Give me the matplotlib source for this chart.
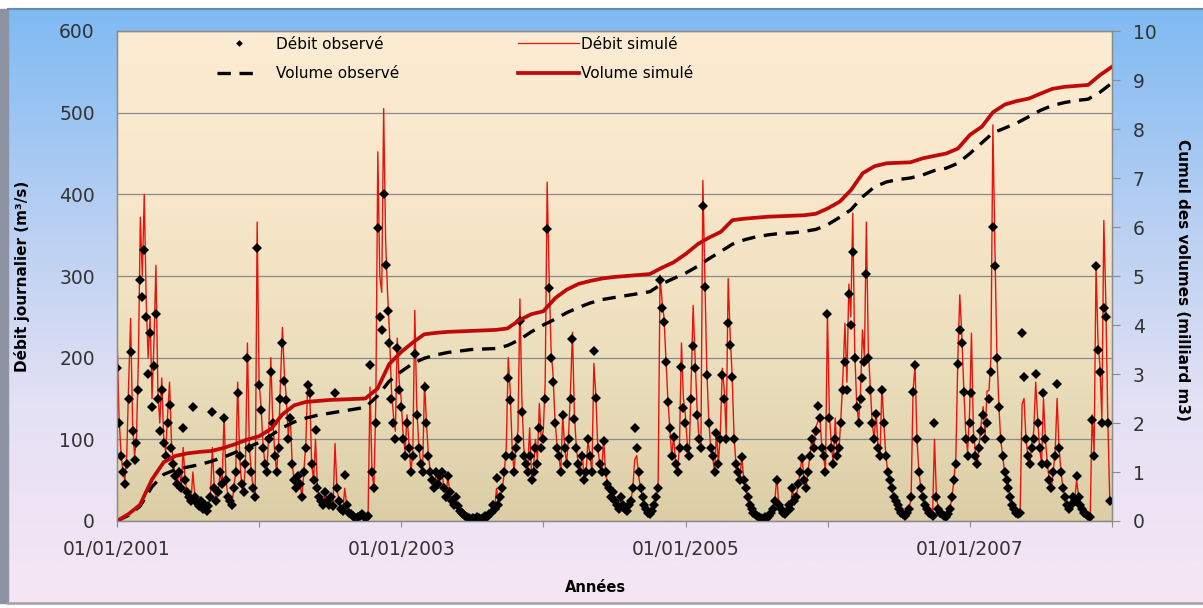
import numpy as np
import pandas as pd
import matplotlib
matplotlib.use("Agg")
import matplotlib.pyplot as plt
from matplotlib.colors import LinearSegmentedColormap
from matplotlib.lines import Line2D

# débits journaliers (m3/s), un point tous les 5 jours à partir du 01/01/2001
obs_2001 = [187, 120, 80, 60, 45, 70, 150, 207, 110, 75,
            95, 160, 295, 274, 332, 250, 180, 230, 140, 190,
            254, 150, 110, 160, 95, 80, 120, 142, 90, 70,
            55, 45, 60, 40, 114, 50, 35, 30, 25, 140,
            30, 22, 18, 25, 15, 20, 12, 18, 30, 133,
            40, 25, 35, 60, 45, 126, 50, 30, 25, 20,
            40, 60, 157, 80, 45, 35, 70, 200, 90, 60,
            40, 30, 334]
obs_2002 = [166, 136, 90, 70, 60, 100, 182, 120, 80, 60,
            90, 150, 218, 172, 148, 100, 126, 70, 50, 40,
            55, 45, 30, 60, 90, 166, 157, 70, 50, 111,
            40, 30, 25, 20, 35, 25, 20, 30, 18, 157,
            40, 25, 15, 12, 56, 20, 10, 8, 6, 5,
            4, 5, 6, 8, 5, 4, 6, 191, 60, 40,
            120, 359, 250, 234, 401, 313, 257, 218, 150, 120,
            100, 212, 160]
obs_2003 = [140, 100, 80, 120, 90, 60, 80, 204, 130, 90,
            70, 60, 164, 120, 80, 60, 50, 40, 60, 45,
            55, 60, 40, 30, 55, 35, 25, 20, 30, 18,
            12, 10, 8, 6, 5, 4, 3, 4, 3, 5,
            4, 3, 4, 6, 5, 8, 10, 20, 15, 53,
            20, 30, 40, 60, 80, 175, 148, 80, 60, 90,
            100, 245, 134, 80, 70, 60, 80, 50, 60, 90,
            70, 114, 90]
obs_2004 = [100, 150, 357, 285, 200, 170, 120, 90, 80, 60,
            130, 90, 70, 100, 150, 223, 125, 90, 70, 60,
            80, 50, 60, 100, 80, 60, 208, 151, 90, 70,
            60, 98, 60, 45, 40, 30, 35, 25, 20, 15,
            30, 20, 15, 12, 20, 25, 40, 114, 90, 60,
            40, 30, 20, 15, 10, 8, 12, 20, 30, 40,
            295, 261, 244, 195, 146, 114, 80, 103, 70, 60,
            90, 189, 138]
obs_2005 = [120, 90, 80, 150, 214, 187, 130, 100, 90, 386,
            286, 179, 120, 90, 80, 60, 108, 70, 100, 179,
            150, 100, 242, 215, 176, 100, 70, 60, 50, 78,
            50, 40, 30, 20, 15, 10, 8, 6, 5, 4,
            3, 5, 4, 6, 10, 15, 25, 50, 20, 15,
            10, 8, 12, 20, 15, 40, 25, 30, 45, 60,
            77, 50, 40, 60, 80, 100, 90, 110, 141, 126,
            90, 80, 60]
obs_2006 = [253, 126, 90, 70, 100, 80, 90, 120, 160, 195,
            160, 278, 240, 329, 200, 140, 120, 150, 175, 195,
            303, 200, 160, 120, 100, 131, 90, 80, 160, 120,
            80, 60, 50, 40, 30, 25, 20, 15, 10, 8,
            6, 10, 15, 30, 158, 191, 100, 60, 40, 30,
            20, 15, 10, 8, 6, 120, 30, 15, 10, 8,
            6, 5, 8, 15, 30, 50, 70, 192, 234, 218,
            158, 100, 80]
obs_2007 = [120, 157, 100, 80, 70, 90, 110, 130, 100, 120,
            150, 182, 360, 312, 200, 140, 100, 80, 60, 50,
            40, 30, 20, 15, 10, 8, 10, 230, 176, 100,
            80, 70, 90, 100, 180, 120, 90, 70, 157, 100,
            70, 50, 40, 60, 80, 168, 90, 60, 40, 30,
            20, 15, 20, 30, 25, 55, 30, 20, 15, 10,
            8, 6, 5, 124, 80, 312, 209, 182, 120, 261,
            250, 120, 25]

sim_2001 = [228, 130, 85, 60, 50, 80, 170, 248, 120, 80,
            100, 200, 372, 300, 400, 270, 200, 250, 150, 220,
            313, 160, 120, 175, 100, 85, 130, 170, 95, 70,
            55, 45, 65, 40, 90, 50, 35, 30, 25, 60,
            30, 22, 18, 25, 15, 20, 12, 18, 30, 90,
            40, 25, 35, 60, 45, 130, 50, 30, 25, 20,
            40, 60, 170, 80, 45, 35, 70, 218, 90, 60,
            40, 30, 366]
sim_2002 = [170, 140, 95, 70, 60, 110, 200, 125, 85, 60,
            95, 170, 237, 180, 150, 105, 130, 70, 50, 40,
            55, 45, 30, 60, 95, 170, 160, 70, 50, 100,
            40, 30, 25, 20, 35, 25, 20, 30, 18, 95,
            40, 25, 15, 12, 40, 20, 10, 8, 6, 5,
            4, 5, 6, 8, 5, 4, 6, 164, 60, 40,
            150, 452, 300, 280, 505, 344, 280, 230, 160, 130,
            110, 224, 170]
sim_2003 = [150, 105, 85, 130, 95, 60, 85, 258, 140, 95,
            70, 60, 170, 120, 80, 60, 50, 40, 60, 45,
            55, 60, 40, 30, 55, 35, 25, 20, 30, 18,
            12, 10, 8, 6, 5, 4, 3, 4, 3, 5,
            4, 3, 4, 6, 5, 8, 10, 20, 15, 40,
            20, 30, 40, 60, 90, 200, 160, 90, 60, 95,
            110, 272, 150, 90, 75, 65, 114, 55, 65, 100,
            75, 144, 100]
sim_2004 = [110, 170, 415, 300, 210, 180, 125, 95, 80, 60,
            130, 90, 70, 105, 160, 231, 130, 90, 70, 60,
            85, 50, 60, 100, 80, 60, 193, 155, 90, 70,
            60, 100, 60, 45, 40, 30, 35, 25, 20, 15,
            30, 20, 15, 12, 20, 25, 40, 75, 80, 55,
            40, 30, 20, 15, 10, 8, 12, 20, 30, 40,
            301, 270, 250, 200, 150, 115, 80, 105, 70, 60,
            95, 218, 150]
sim_2005 = [130, 95, 85, 170, 264, 200, 140, 100, 90, 417,
            300, 187, 125, 90, 80, 60, 110, 70, 110, 187,
            160, 105, 297, 230, 180, 105, 70, 60, 50, 80,
            50, 40, 30, 20, 15, 10, 8, 6, 5, 4,
            3, 5, 4, 6, 10, 15, 25, 55, 20, 15,
            10, 8, 12, 20, 15, 40, 25, 30, 45, 60,
            80, 50, 40, 60, 80, 100, 90, 115, 121, 130,
            95, 80, 60]
sim_2006 = [256, 130, 95, 70, 126, 80, 90, 130, 180, 242,
            170, 290, 250, 377, 210, 145, 120, 160, 234, 200,
            366, 210, 165, 120, 100, 135, 90, 80, 165, 120,
            80, 60, 50, 40, 30, 25, 20, 15, 10, 8,
            6, 10, 15, 30, 160, 190, 100, 60, 40, 30,
            20, 15, 10, 8, 6, 100, 30, 15, 10, 8,
            6, 5, 8, 15, 30, 50, 80, 200, 277, 230,
            165, 110, 85]
sim_2007 = [130, 230, 110, 85, 70, 95, 120, 140, 105, 159,
            160, 200, 485, 340, 210, 145, 100, 80, 60, 50,
            40, 30, 20, 15, 10, 8, 10, 143, 150, 100,
            80, 70, 95, 110, 170, 125, 90, 70, 150, 100,
            70, 50, 40, 60, 85, 150, 90, 60, 40, 30,
            20, 15, 20, 30, 25, 50, 30, 20, 15, 10,
            8, 6, 5, 130, 85, 312, 220, 190, 125, 368,
            270, 130, 30]

# cumul des volumes (milliard m3), début de chaque mois 01/2001 -> 01/2008
vol_obs = [0.0, 0.12, 0.3, 0.7, 0.95, 1.05, 1.1, 1.15, 1.22, 1.3,
           1.4, 1.5, 1.6, 1.75, 1.9, 2.02, 2.1, 2.16, 2.2, 2.24,
           2.28, 2.32, 2.55, 2.85, 3.05, 3.22, 3.32, 3.39, 3.44, 3.47,
           3.5, 3.51, 3.52, 3.58, 3.7, 3.86, 4.0, 4.12, 4.25, 4.36,
           4.45, 4.52, 4.56, 4.6, 4.64, 4.68, 4.84, 4.95, 5.06, 5.2,
           5.35, 5.5, 5.65, 5.74, 5.8, 5.84, 5.87, 5.88, 5.91, 5.95,
           6.05, 6.2, 6.35, 6.62, 6.82, 6.92, 6.97, 7.0, 7.06, 7.15,
           7.2, 7.3, 7.5, 7.72, 7.92, 8.02, 8.12, 8.25, 8.38, 8.48,
           8.54, 8.58, 8.61, 8.75, 8.94]
vol_sim = [0.0, 0.15, 0.33, 0.85, 1.2, 1.33, 1.38, 1.41, 1.43, 1.49,
           1.57, 1.66, 1.73, 1.88, 2.17, 2.36, 2.43, 2.45, 2.47, 2.48,
           2.49, 2.5, 2.7, 3.2, 3.45, 3.65, 3.81, 3.84, 3.86, 3.87,
           3.88, 3.89, 3.9, 3.93, 4.1, 4.22, 4.28, 4.55, 4.72, 4.84,
           4.9, 4.95, 4.98, 5.0, 5.02, 5.04, 5.17, 5.28, 5.45, 5.65,
           5.78, 5.9, 6.14, 6.17, 6.19, 6.21, 6.22, 6.23, 6.24, 6.27,
           6.38, 6.52, 6.75, 7.1, 7.24, 7.3, 7.31, 7.32, 7.4, 7.45,
           7.5, 7.6, 7.88, 8.05, 8.34, 8.5, 8.57, 8.62, 8.72, 8.82,
           8.86, 8.88, 8.9, 9.1, 9.27]

x_labels = ["01/01/2001", "", "01/01/2003", "", "01/01/2005", "", "01/01/2007", ""]

debit_obs = obs_2001 + obs_2002 + obs_2003 + obs_2004 + obs_2005 + obs_2006 + obs_2007
debit_sim = sim_2001 + sim_2002 + sim_2003 + sim_2004 + sim_2005 + sim_2006 + sim_2007
jours = np.datetime64("2001-01-01") + np.arange(len(debit_obs)) * np.timedelta64(5, "D")
mois = pd.date_range("2001-01-01", periods=len(vol_obs), freq="MS")
annees = pd.date_range("2001-01-01", periods=len(x_labels), freq="YS")

plt.rcParams["font.family"] = "DejaVu Sans"
W, H = 1203, 608
fig = plt.figure(figsize=(W / 100, H / 100), dpi=100)

# fond (dégradés façon Excel)
bg = fig.add_axes([0, 0, 1, 1], zorder=-10)
bg.set_xlim(0, 1)
bg.set_ylim(0, 1)
bg.axis("off")
fond = LinearSegmentedColormap.from_list("fond", ["#f6e6f4", "#e4e1f4", "#b4cef2", "#7fbaf3"])
bg.imshow(np.linspace(0, 1, 256).reshape(-1, 1), origin="lower", cmap=fond, aspect="auto",
          extent=[0.007, 1, 0.008, 0.986])
bg.fill_between([0, 0.007], 0.008, 0.986, color="#8e93a3")
bg.plot([0.007, 1], [0.986, 0.986], color="#6d88a8", lw=1.5)
bg.plot([0.007, 1], [0.008, 0.008], color="#a9a6b0", lw=2)

x0, x1 = 117 / W, 1112 / W
y0, y1 = 1 - 521 / H, 1 - 31 / H
zone = LinearSegmentedColormap.from_list("zone", ["#dbcea6", "#ecdfbd", "#f8e7ca", "#fcecd3"])
bg.imshow(np.linspace(0, 1, 256).reshape(-1, 1), origin="lower", cmap=zone, aspect="auto",
          extent=[x0, x1, y0, y1])

ax = fig.add_axes([x0, y0, x1 - x0, y1 - y0])
ax.set_facecolor("none")
ax.plot(jours, debit_sim, color="#e8140c", lw=1.0, zorder=2)
ax.plot(jours, debit_obs, ls="none", marker="D", ms=5.5, color="black", mew=0, zorder=3)
ax.set_ylim(0, 600)
ax.set_yticks(range(0, 601, 100))
ax.set_xlim(np.datetime64("2001-01-01"), np.datetime64("2008-01-01"))
ax.set_xticks(annees)
ax.set_xticklabels(x_labels)
ax.yaxis.grid(True, color="#8a8a8a", lw=0.9)
ax.set_axisbelow(True)

ax2 = ax.twinx()
ax2.plot(mois, vol_obs, color="black", lw=2.4, ls=(0, (4, 2.6)), dash_capstyle="butt")
ax2.plot(mois, vol_sim, color="#c00a0a", lw=2.7)
ax2.set_ylim(0, 10)
ax2.set_yticks(range(0, 11))

for a in (ax, ax2):
    for s in a.spines.values():
        s.set_color("#8a8a8a")
        s.set_linewidth(0.9)
ax.tick_params(axis="y", length=0, pad=16, labelsize=13.5, labelcolor="#333333")
ax.tick_params(axis="x", length=4, color="#8a8a8a", pad=10, labelsize=13.5, labelcolor="#333333")
ax2.tick_params(axis="y", length=6, color="#8a8a8a", pad=9, labelsize=13.5, labelcolor="#333333")

fig.text(22 / W, 1 - 276 / H, "Débit journalier (m³/s)", rotation=90, ha="center", va="center",
         fontsize=11, fontweight="bold")
fig.text(1182 / W, 1 - 280 / H, "Cumul des volumes (milliard m3)", rotation=-90, ha="center",
         va="center", fontsize=11, fontweight="bold")
fig.text(595 / W, 1 - 588 / H, "Années", ha="center", va="center", fontsize=10.5, fontweight="bold")

h_obs = Line2D([], [], ls="none", marker="D", ms=3.4, color="black", mew=0)
h_vobs = Line2D([], [], color="black", lw=2.4, ls=(0, (4, 2.6)), dash_capstyle="butt")
h_sim = Line2D([], [], color="#e8140c", lw=0.9)
h_vsim = Line2D([], [], color="#c00a0a", lw=2.7)
leg1 = ax2.legend([h_obs, h_vobs], ["Débit observé", "Volume observé"], loc="upper left",
                  bbox_to_anchor=(209 / W, 1 - 29 / H), bbox_transform=fig.transFigure,
                  frameon=False, fontsize=11, borderpad=0, handlelength=2.9,
                  handletextpad=1.0, labelspacing=0.95)
ax2.add_artist(leg1)
ax2.legend([h_sim, h_vsim], ["Débit simulé", "Volume simulé"], loc="upper left",
           bbox_to_anchor=(510 / W, 1 - 29 / H), bbox_transform=fig.transFigure,
           frameon=False, fontsize=11, borderpad=0, handlelength=4.0,
           handletextpad=0.15, labelspacing=0.95)

fig.savefig("out.png", dpi=100)
